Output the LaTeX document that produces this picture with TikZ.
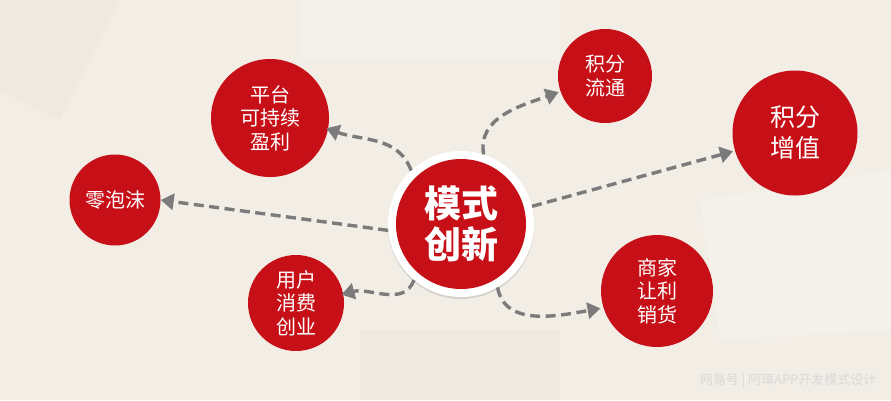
\documentclass[tikz,border=0pt]{standalone}
\usepackage{fontspec}
\newfontfamily\cjk{Noto Sans CJK SC}
\usetikzlibrary{arrows.meta,shadows}
\definecolor{bg}{HTML}{F2EDE5}
\definecolor{bgd}{HTML}{E8E2D8}
\definecolor{rd}{HTML}{C70F17}
\definecolor{ar}{HTML}{7B7B7B}
\begin{document}
\begin{tikzpicture}[x=1pt,y=-1pt,
  bub/.style={circle,fill=rd,text=white,align=center,inner sep=0pt,font=\cjk\fontsize{20}{23.5}\selectfont},
  link/.style={draw=ar,line width=3.4pt,dash pattern=on 10pt off 5.5pt,-{Triangle[length=13pt,width=16pt]}}]
\fill[bg] (0,0) rectangle (891,400);
\useasboundingbox (0,0) rectangle (891,400);
% faint background shapes
\fill[bgd,opacity=0.3] (0,0) -- (120,0) -- (60,120) -- (0,90) -- cycle;
\fill[white,opacity=0.2] (300,0) rectangle (560,60);
\fill[bgd,opacity=0.3] (360,330) rectangle (560,400);
\fill[white,opacity=0.2] (700,200) -- (891,170) -- (891,330) -- (720,340) -- cycle;
% nodes
\node[circle,fill=white,minimum size=146pt,drop shadow={opacity=0.25,shadow xshift=0pt,shadow yshift=-2pt}] (cring) at (461,224) {};
\node[bub,minimum size=130pt,font=\cjk\bfseries\fontsize{37}{41}\selectfont] (c) at (461,224) {模式\\创新};
\node[bub,minimum size=118pt] (pt) at (270,118) {平台\\可持续\\盈利};
\node[bub,minimum size=91pt] (lp) at (115,200) {零泡沫};
\node[bub,minimum size=96pt] (yh) at (296,303) {用户\\消费\\创业};
\node[bub,minimum size=94pt] (lt) at (605,76) {积分\\流通};
\node[bub,minimum size=125pt,font=\cjk\fontsize{25}{31}\selectfont] (zz) at (795,133) {积分\\增值};
\node[bub,minimum size=112pt] (sj) at (657,291) {商家\\让利\\销货};
% connectors
\draw[link] (cring.185) -- (lp.east);
\draw[link] (cring.133) to[out=110,in=-20] ([xshift=-2pt]pt.-10);
\draw[link] (cring.72) to[out=100,in=200] ([xshift=-2pt]lt.200);
\draw[link] (cring.14) -- ([xshift=-2pt]zz.197);
\draw[link] (cring.230) to[out=-110,in=15] ([xshift=-2pt]yh.10);
\draw[link] (cring.300) to[out=-80,in=190] ([xshift=-3pt]sj.198);
% watermark
\node[text=white!70!gray,font=\cjk\fontsize{13}{15}\selectfont,anchor=east] (wm) at (880,381) {网易号 | 阿璋APP开发模式设计};
\end{tikzpicture}
\end{document}
